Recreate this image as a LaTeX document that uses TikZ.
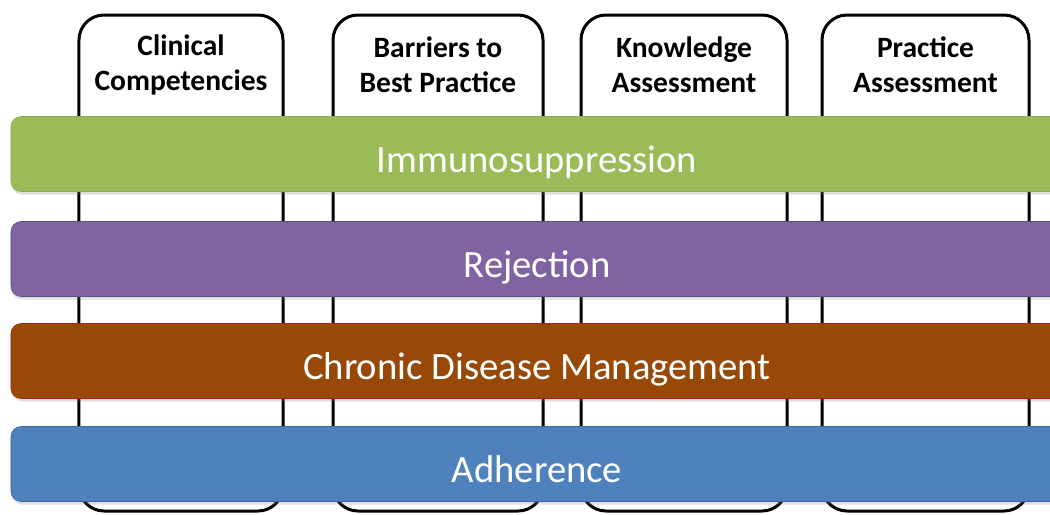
\documentclass[tikz,border=0pt]{standalone}
\usepackage{fontspec}
\setmainfont{Carlito}
\usetikzlibrary{shadows}

\begin{document}
\begin{tikzpicture}[x=0.2mm,y=-0.2mm]
    % Colors
    \definecolor{immunofill}{HTML}{9BBB59}
    \definecolor{immunoline}{HTML}{8AAA4C}
    \definecolor{rejectfill}{HTML}{8064A2}
    \definecolor{rejectline}{HTML}{634C80}
    \definecolor{chronicfill}{HTML}{984807}
    \definecolor{chronicline}{HTML}{A3281C}
    \definecolor{adherefill}{HTML}{4F81BD}
    \definecolor{adhereline}{HTML}{3C68A0}

    % Styles
    \tikzstyle{column}=[draw=black,line width=0.6mm,fill=white,rounded corners=5mm,
      minimum height=99.2mm,inner sep=0pt]
    \tikzstyle{column text}=[font=\bfseries\fontsize{16.8}{19.8}\selectfont,align=center]
    \tikzstyle{band}=[rounded corners=2mm,minimum width=210.4mm,minimum height=15mm,
      inner sep=0pt,line width=0.3pt,text=white,font=\fontsize{22}{26}\selectfont,
      text height=7.2mm,text depth=0pt,
      drop shadow={shadow xshift=0.2mm,shadow yshift=-0.6mm,opacity=0.25}]

    % The graphic
    \useasboundingbox (0,0) rectangle (1050,514);
    \clip (0,0) rectangle (1050,514);

    \foreach \x/\w/\name/\txt in {181/40.8/clinical/{Clinical\\Competencies},
        438/42/barriers/{Barriers to\\Best Practice},
        684/41.2/knowledge/{Knowledge\\Assessment},
        925.5/41.4/practice/{Practice\\Assessment}}
    {
      \node[column,minimum width=\w mm] (\name) at (\x,263) {};
      \node[column text] (\name text) at (\x,65) {\txt};
    }

    \foreach \y/\name/\txt in {154/immuno/Immunosuppression,
        259/reject/Rejection,
        361/chronic/Chronic Disease Management,
        464/adhere/Adherence}
      \node[band,fill=\name fill,draw=\name line] (\name) at (537,\y) {\txt};

\end{tikzpicture}
\end{document}
